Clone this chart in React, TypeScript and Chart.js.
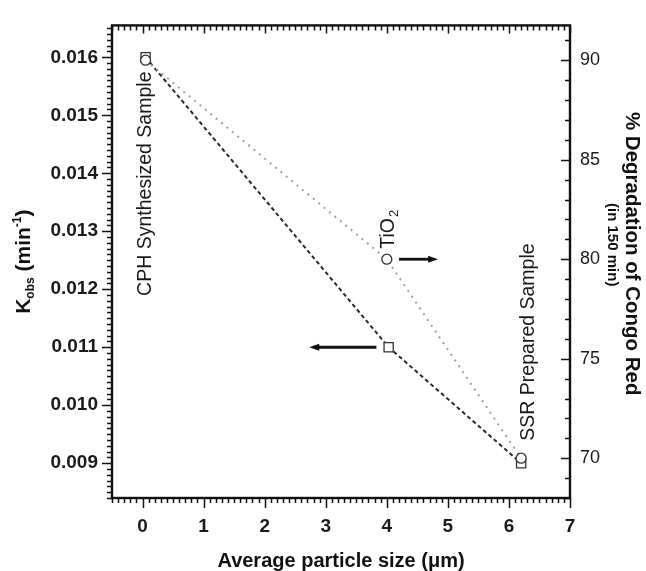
import React, { useEffect, useRef } from 'react';
import { Chart, registerables } from 'chart.js';

Chart.register(...registerables);

// ---- data ----
const particleSizeK = [0.05, 4.03, 6.2];
const kObs = [0.016, 0.011, 0.009];
const particleSizeDeg = [0.05, 4.0, 6.2];
const degradation = [90, 80, 70];
const xTickValues = [0, 1, 2, 3, 4, 5, 6, 7];
const kTickValues = [0.009, 0.01, 0.011, 0.012, 0.013, 0.014, 0.015, 0.016];
const degTickValues = [70, 75, 80, 85, 90];
const sampleNames = ['CPH Synthesized Sample', 'TiO', 'SSR Prepared Sample'];

const FONT = '"Liberation Sans", Arial, Helvetica, sans-serif';

// annotation placement (data coordinates)
const sampleLabels = [
  { text: sampleNames[0], x: 0.05, k: 0.01382, align: 'center' },
  { text: sampleNames[2], x: 6.32, k: 0.01109, align: 'center' },
];
const tio2Label = { text: sampleNames[1], sub: '2', x: 4.0, k: 0.0127 };
const arrows = [
  { axis: 'y1', y: 80, from: 4.2, to: 4.84 },
  { axis: 'y', y: 0.011, from: 3.83, to: 2.73 },
];

type Seg = { t: string; size: number; dy?: number };

function drawRich(ctx: CanvasRenderingContext2D, segs: Seg[], cx: number, cy: number, angle: number, weight: string, baseOff: number) {
  ctx.save();
  ctx.translate(cx, cy);
  ctx.rotate(angle);
  ctx.textAlign = 'left';
  ctx.textBaseline = 'alphabetic';
  let total = 0;
  const widths = segs.map((s) => {
    ctx.font = `${weight} ${s.size}px ${FONT}`;
    const w = ctx.measureText(s.t).width;
    total += w;
    return w;
  });
  let u = -total / 2;
  segs.forEach((s, i) => {
    ctx.font = `${weight} ${s.size}px ${FONT}`;
    ctx.fillText(s.t, u, baseOff + (s.dy || 0));
    u += widths[i];
  });
  ctx.restore();
}

const decorPlugin = {
  id: 'decor',
  afterDraw(chart: any) {
    const { ctx, chartArea: a, scales } = chart;
    const xs = scales.x, ys = scales.y, y1 = scales.y1;
    ctx.save();
    ctx.strokeStyle = '#111';
    ctx.fillStyle = '#111';
    ctx.lineWidth = 1.5;
    ctx.lineCap = 'butt';

    // x ticks (bottom outward, top inward)
    for (let i = Math.ceil(xs.min * 10 - 1e-6); i <= Math.floor(xs.max * 10 + 1e-6); i++) {
      const px = Math.round(xs.getPixelForValue(i / 10)) + 0.5;
      const major = i % 10 === 0;
      ctx.beginPath();
      ctx.moveTo(px, a.bottom);
      ctx.lineTo(px, a.bottom + (major ? 10 : 5));
      ctx.moveTo(px, a.top);
      ctx.lineTo(px, a.top + (major ? 8 : 5));
      ctx.stroke();
    }
    // left ticks (outward)
    for (let i = Math.ceil(ys.min * 10000 - 1e-6); i <= Math.floor(ys.max * 10000 + 1e-6); i++) {
      const py = Math.round(ys.getPixelForValue(i / 10000)) + 0.5;
      const major = i % 10 === 0;
      ctx.beginPath();
      ctx.moveTo(a.left, py);
      ctx.lineTo(a.left - (major ? 10 : 5), py);
      ctx.stroke();
    }
    // right ticks (inward)
    for (let i = Math.ceil(y1.min - 1e-6); i <= Math.floor(y1.max + 1e-6); i++) {
      const py = Math.round(y1.getPixelForValue(i)) + 0.5;
      const major = i % 5 === 0;
      ctx.beginPath();
      ctx.moveTo(a.right, py);
      ctx.lineTo(a.right - (major ? 9 : 5), py);
      ctx.stroke();
    }
    // frame
    ctx.lineWidth = 2.4;
    ctx.strokeRect(a.left, a.top, a.right - a.left, a.bottom - a.top);

    // arrows
    arrows.forEach((ar) => {
      const sc = scales[ar.axis];
      const py = sc.getPixelForValue(ar.y);
      const x0 = xs.getPixelForValue(ar.from);
      const x1 = xs.getPixelForValue(ar.to);
      const dir = x1 > x0 ? 1 : -1;
      ctx.lineWidth = 2.8;
      ctx.beginPath();
      ctx.moveTo(x0, py);
      ctx.lineTo(x1 - dir * 8, py);
      ctx.stroke();
      ctx.beginPath();
      ctx.moveTo(x1, py);
      ctx.lineTo(x1 - dir * 10, py - 3.5);
      ctx.lineTo(x1 - dir * 10, py + 3.5);
      ctx.closePath();
      ctx.fill();
    });

    // sample labels
    ctx.fillStyle = '#1a1a1a';
    sampleLabels.forEach((l) => {
      const px = xs.getPixelForValue(l.x);
      const py = ys.getPixelForValue(l.k);
      ctx.save();
      ctx.translate(px, py);
      ctx.rotate(-Math.PI / 2);
      ctx.font = `19.5px ${FONT}`;
      ctx.textAlign = 'center';
      ctx.textBaseline = 'middle';
      ctx.fillText(l.text, 0, 0);
      ctx.restore();
    });
    {
      const px = xs.getPixelForValue(tio2Label.x);
      const py = ys.getPixelForValue(tio2Label.k);
      ctx.save();
      ctx.translate(px, py);
      ctx.rotate(-Math.PI / 2);
      ctx.font = `19.5px ${FONT}`;
      ctx.textAlign = 'left';
      ctx.textBaseline = 'alphabetic';
      ctx.fillText(tio2Label.text, 0, 7);
      const w = ctx.measureText(tio2Label.text).width;
      ctx.font = `13px ${FONT}`;
      ctx.fillText(tio2Label.sub, w + 1, 11);
      ctx.restore();
    }

    // axis titles
    ctx.fillStyle = '#111';
    const midY = (a.top + a.bottom) / 2;
    drawRich(ctx, [
      { t: 'K', size: 21 },
      { t: 'obs', size: 12, dy: 4 },
      { t: ' (min', size: 21 },
      { t: '-1', size: 12, dy: -9 },
      { t: ')', size: 21 },
    ], 22, midY, -Math.PI / 2, 'bold', 7.5);

    drawRich(ctx, [{ t: '% Degradation of Congo Red', size: 20.5 }], 633, midY - 8, Math.PI / 2, 'bold', 7);
    drawRich(ctx, [{ t: '(in 150 min)', size: 15 }], 613, midY - 17, Math.PI / 2, 'bold', 5.5);

    ctx.save();
    ctx.font = `bold 20px ${FONT}`;
    ctx.textAlign = 'center';
    ctx.textBaseline = 'alphabetic';
    ctx.fillText('Average particle size (\u03bcm)', (a.left + a.right) / 2, 567);
    ctx.restore();

    ctx.restore();
  },
};

export default function App() {
  const ref = useRef<HTMLCanvasElement | null>(null);
  useEffect(() => {
    if (!ref.current) return;
    const tickFontBold = { family: FONT, size: 19, weight: 'bold' as const };
    const chart = new Chart(ref.current, {
      type: 'scatter',
      data: {
        datasets: [
          {
            label: 'Degradation',
            data: particleSizeDeg.map((x, i) => ({ x, y: degradation[i] })),
            yAxisID: 'y1',
            showLine: true,
            borderColor: '#a0a0a0',
            borderWidth: 2,
            borderDash: [2, 5],
            pointStyle: 'circle',
            pointRadius: 5,
            pointBorderColor: '#333',
            pointBackgroundColor: '#fff',
            pointBorderWidth: 1.3,
          },
          {
            label: 'Kobs',
            data: particleSizeK.map((x, i) => ({ x, y: kObs[i] })),
            yAxisID: 'y',
            showLine: true,
            borderColor: '#2a2a2a',
            borderWidth: 2,
            borderDash: [4, 3],
            pointStyle: 'rect',
            pointRadius: 6.5,
            pointBorderColor: '#333',
            pointBackgroundColor: '#fff',
            pointBorderWidth: 1.3,
          },
        ],
      },
      options: {
        responsive: false,
        animation: false,
        devicePixelRatio: 1,
        layout: { padding: { top: 20, left: 0, right: 0, bottom: 0 } },
        plugins: { legend: { display: false }, tooltip: { enabled: false } },
        scales: {
          x: {
            type: 'linear',
            position: 'bottom',
            min: -0.5,
            max: 7,
            grid: { display: false, drawTicks: false },
            border: { display: false },
            afterBuildTicks: (s: any) => { s.ticks = xTickValues.map((v) => ({ value: v })); },
            afterFit: (s: any) => { s.height = 73; },
            ticks: { padding: 17, font: tickFontBold, color: '#1a1a1a', maxRotation: 0, autoSkip: false },
          },
          y: {
            type: 'linear',
            position: 'left',
            min: 0.0084,
            max: 0.01655,
            grid: { display: false, drawTicks: false },
            border: { display: false },
            afterBuildTicks: (s: any) => { s.ticks = kTickValues.map((v) => ({ value: v })); },
            afterFit: (s: any) => { s.width = 112; },
            ticks: { padding: 14, font: tickFontBold, color: '#1a1a1a', callback: (v: any) => Number(v).toFixed(3) },
          },
          y1: {
            type: 'linear',
            position: 'right',
            min: 68,
            max: 91.75,
            grid: { display: false, drawTicks: false },
            border: { display: false },
            afterBuildTicks: (s: any) => { s.ticks = degTickValues.map((v) => ({ value: v })); },
            afterFit: (s: any) => { s.width = 76; },
            ticks: { padding: 10, font: { family: FONT, size: 18 }, color: '#1a1a1a', callback: (v: any) => String(v) },
          },
        },
      },
      plugins: [decorPlugin],
    } as any);
    return () => chart.destroy();
  }, []);
  return (
    <div style={{ position: 'fixed', left: 0, top: 0, width: 646, height: 571, background: '#fff' }}>
      <canvas ref={ref} width={646} height={571} style={{ width: 646, height: 571, display: 'block' }} />
    </div>
  );
}
